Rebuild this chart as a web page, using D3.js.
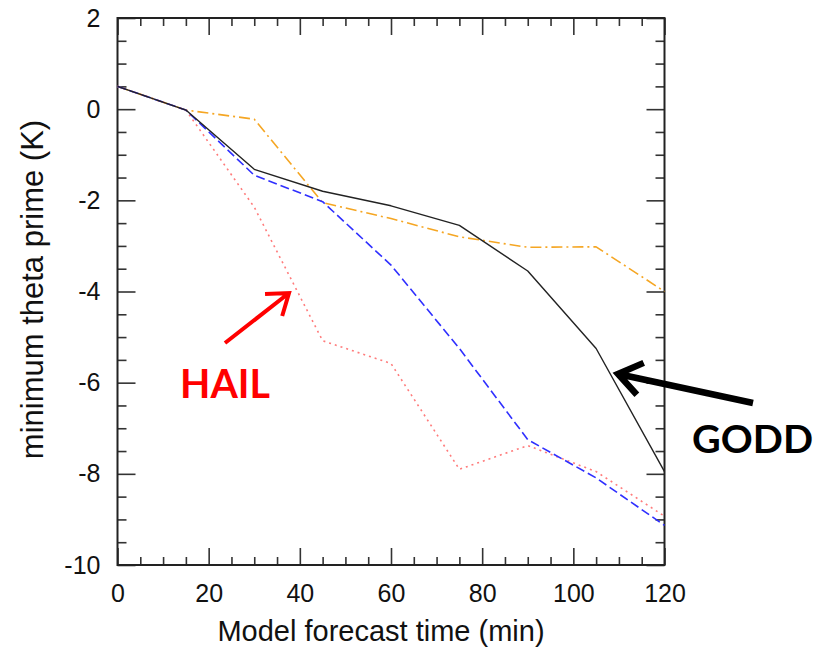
<!DOCTYPE html>
<html>
<head>
<meta charset="utf-8">
<script src="https://cdn.jsdelivr.net/npm/d3@7/dist/d3.min.js"></script>
<style>
  html, body { margin: 0; padding: 0; background: #fff; }
  svg { display: block; }
  .tick text { font-family: "Liberation Sans", Arial, sans-serif; fill: #111; }
</style>
</head>
<body>
<svg id="chart" width="832" height="651"></svg>
<script>
// Forecast times (min) and minimum theta-prime (K) for each run
const times  = [0, 15, 30, 45, 60, 75, 90, 105, 120];
const godd   = [0.5, -0.02, -1.32, -1.8, -2.12, -2.55, -3.55, -5.25, -7.95];
const blueRun   = [0.5, -0.02, -1.45, -2.03, -3.42, -5.25, -7.25, -8.09, -9.13];
const orangeRun = [0.5, -0.02, -0.22, -2.05, -2.4, -2.8, -3.03, -3.02, -4.0];
const hail   = [0.5, -0.02, -2.15, -5.08, -5.58, -7.9, -7.38, -7.95, -8.93];

const xMajor = [0, 20, 40, 60, 80, 100, 120];
const yMajor = [-10, -8, -6, -4, -2, 0, 2];

const svg = d3.select("#chart");
const L = 117.5, R = 664.5, T = 18, B = 565;

const x = d3.scaleLinear().domain([0, 120]).range([L, R]);
const y = d3.scaleLinear().domain([-10, 2]).range([B, T]);

const xMinor = d3.range(0, 121, 5).filter(v => v % 20 !== 0);
const yMinor = d3.range(-10, 2.01, 0.5).filter(v => Math.abs(v % 2) > 1e-9);

// plain hyphen for negative labels
const fmt = d => String(d);

const tickColor = "#333";
function styleAxis(g) {
  g.select(".domain").remove();
  g.selectAll(".tick line").attr("stroke", tickColor).attr("stroke-width", 1.6);
}

// bottom axis with labels, plus inward minor ticks
svg.append("g").attr("transform", `translate(0,${B})`)
  .call(d3.axisBottom(x).tickValues(xMajor).tickSize(-17).tickPadding(19).tickFormat(fmt))
  .call(styleAxis)
  .call(g => g.selectAll("text").attr("font-size", 25));
svg.append("g").attr("transform", `translate(0,${B})`)
  .call(d3.axisBottom(x).tickValues(xMinor).tickSize(-8).tickFormat(""))
  .call(styleAxis);
// top mirror
svg.append("g").attr("transform", `translate(0,${T})`)
  .call(d3.axisTop(x).tickValues(xMajor).tickSize(-17).tickFormat(""))
  .call(styleAxis);
svg.append("g").attr("transform", `translate(0,${T})`)
  .call(d3.axisTop(x).tickValues(xMinor).tickSize(-8).tickFormat(""))
  .call(styleAxis);
// left axis with labels
svg.append("g").attr("transform", `translate(${L},0)`)
  .call(d3.axisLeft(y).tickValues(yMajor).tickSize(-18).tickPadding(17).tickFormat(fmt))
  .call(styleAxis)
  .call(g => g.selectAll("text").attr("font-size", 25));
svg.append("g").attr("transform", `translate(${L},0)`)
  .call(d3.axisLeft(y).tickValues(yMinor).tickSize(-9).tickFormat(""))
  .call(styleAxis);
// right mirror
svg.append("g").attr("transform", `translate(${R},0)`)
  .call(d3.axisRight(y).tickValues(yMajor).tickSize(-18).tickFormat(""))
  .call(styleAxis);
svg.append("g").attr("transform", `translate(${R},0)`)
  .call(d3.axisRight(y).tickValues(yMinor).tickSize(-9).tickFormat(""))
  .call(styleAxis);

// plot frame
svg.append("rect")
  .attr("x", L).attr("y", T).attr("width", R - L).attr("height", B - T)
  .attr("fill", "none").attr("stroke", "#222").attr("stroke-width", 2);

// axis titles
svg.append("text")
  .attr("x", (L + R) / 2 - 10).attr("y", 641)
  .attr("text-anchor", "middle")
  .attr("font-family", "Liberation Sans, Arial, sans-serif")
  .attr("font-size", 29).attr("fill", "#111")
  .text("Model forecast time (min)");
svg.append("text")
  .attr("transform", `translate(43,${(T + B) / 2 - 2}) rotate(-90)`)
  .attr("text-anchor", "middle")
  .attr("font-family", "Liberation Sans, Arial, sans-serif")
  .attr("font-size", 31).attr("fill", "#111")
  .text("minimum theta prime (K)");

// series lines
const line = d3.line().x(d => x(d[0])).y(d => y(d[1]));
const series = [
  { vals: orangeRun, color: "#f5a623", dash: "11,4,2,4", w: 1.6 },
  { vals: hail,      color: "#ff7b7b", dash: "2,4",      w: 1.6 },
  { vals: blueRun,   color: "#2f2fff", dash: "9,4",      w: 1.6 },
  { vals: godd,      color: "#222222", dash: null,       w: 1.4 }
];
series.forEach(s => {
  svg.append("path")
    .datum(times.map((t, i) => [t, s.vals[i]]))
    .attr("d", line)
    .attr("fill", "none")
    .attr("stroke", s.color)
    .attr("stroke-width", s.w)
    .attr("stroke-dasharray", s.dash)
    .attr("stroke-linejoin", "round");
});

// annotation arrows (open chevron heads)
function arrow(x1, y1, x2, y2, color, w, head) {
  const a = Math.atan2(y2 - y1, x2 - x1);
  const spread = 0.62;
  const p1 = [x2 - head * Math.cos(a - spread), y2 - head * Math.sin(a - spread)];
  const p2 = [x2 - head * Math.cos(a + spread), y2 - head * Math.sin(a + spread)];
  svg.append("path")
    .attr("d", `M${x1},${y1}L${x2},${y2}M${p1[0]},${p1[1]}L${x2},${y2}L${p2[0]},${p2[1]}`)
    .attr("fill", "none").attr("stroke", color).attr("stroke-width", w)
    .attr("stroke-linecap", "butt").attr("stroke-linejoin", "miter");
}
arrow(225, 343, 289, 293, "#ff0000", 4, 24);
arrow(753, 403, 618, 374, "#000000", 6.5, 28);

// annotation labels
svg.append("text")
  .attr("x", 180).attr("y", 398)
  .attr("font-family", "Lato, 'Open Sans', sans-serif").attr("font-weight", "bold")
  .attr("font-size", 41).attr("fill", "#ff0000")
  .attr("textLength", 90).attr("lengthAdjust", "spacingAndGlyphs")
  .text("HAIL");
svg.append("text")
  .attr("x", 692).attr("y", 453)
  .attr("font-family", "Lato, 'Open Sans', sans-serif").attr("font-weight", "bold")
  .attr("font-size", 38).attr("fill", "#000")
  .attr("textLength", 121).attr("lengthAdjust", "spacingAndGlyphs")
  .text("GODD");
</script>
</body>
</html>
